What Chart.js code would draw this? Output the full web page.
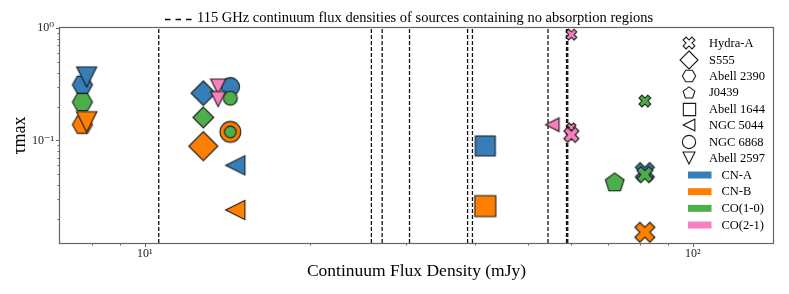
<!DOCTYPE html>
<html>
<head>
<meta charset="utf-8">
<script src="https://cdn.jsdelivr.net/npm/chart.js@4.4.1/dist/chart.umd.min.js"></script>
<style>
  html, body { margin: 0; padding: 0; background: #fff; }
</style>
</head>
<body>
<canvas id="chart" width="789" height="294"></canvas>
<script>
// ---- data ----
const SOURCES = ['Hydra-A', 'S555', 'Abell 2390', 'J0439', 'Abell 1644', 'NGC 5044', 'NGC 6868', 'Abell 2597'];
const LINES = ['CN-A', 'CN-B', 'CO(1-0)', 'CO(2-1)'];
const TITLE = '115 GHz continuum flux densities of sources containing no absorption regions';

// continuum flux (mJy), tau_max, and which line (index into LINES)
const HYDRA_FLUX = [81.7, 81.7, 81.7, 81.7, 60.0, 60.0, 60.0];
const HYDRA_TAU = [0.0522, 0.0152, 0.224, 0.0496, 0.874, 0.130, 0.112];
const HYDRA_LINE = [0, 1, 2, 2, 3, 3, 3];

const S555_FLUX = [12.78, 12.78, 12.78];
const S555_TAU = [0.263, 0.0888, 0.160];
const S555_LINE = [0, 1, 2];

const A2390_FLUX = [7.69, 7.69, 7.69];
const A2390_TAU = [0.312, 0.138, 0.219];
const A2390_LINE = [0, 1, 2];

const J0439_FLUX = [72.0];
const J0439_TAU = [0.0419];
const J0439_LINE = [2];

const A1644_FLUX = [41.8, 41.8];
const A1644_TAU = [0.0892, 0.0260];
const A1644_LINE = [0, 1];

const N5044_FLUX = [14.62, 14.62, 55.4];
const N5044_TAU = [0.0599, 0.0240, 0.138];
const N5044_LINE = [0, 1, 3];

const N6868_FLUX = [14.32, 14.32, 14.32, 14.32];
const N6868_TAU = [0.300, 0.119, 0.237, 0.119];
const N6868_LINE = [0, 1, 2, 2];

const A2597_FLUX = [7.83, 7.83, 13.6, 13.6];
const A2597_TAU = [0.367, 0.146, 0.301, 0.233];
const A2597_LINE = [0, 1, 3, 3];

// sources with no absorption (vertical dashed lines)
const NOABS_FLUX = [10.6, 25.9, 27.1, 30.4, 38.8, 39.6, 54.4, 58.8, 59.1];

// axes
const X_MIN = 7, X_MAX = 140;
const Y_MIN = 0.0122, Y_MAX = 1;
const X_TICKS = [8, 9, 10, 20, 30, 40, 50, 60, 70, 80, 90, 100];
const X_MAJOR = [10, 100];
const X_MAJOR_LABELS = ['10¹', '10²'];
const Y_TICKS = [0.02, 0.03, 0.04, 0.05, 0.06, 0.07, 0.08, 0.09, 0.1, 0.2, 0.3, 0.4, 0.5, 0.6, 0.7, 0.8, 0.9, 1];
const Y_MAJOR = [0.1, 1];
const Y_MAJOR_LABELS = ['10⁻¹', '10⁰'];

// ---- styles ----
const SHAPES = ['X', 'D', 'H', 'p', 's', '<', 'o', 'v'];
const LINE_COLORS = ['#377eb8', '#ff7f00', '#4daf4a', '#f781bf'];
const MARKER_PX = {
  'Hydra-A': [19, 20, 11.7, 16, 10.7, 9, 15],
  'S555': [24.5, 29, 20.7],
  'Abell 2390': [20, 20, 20],
  'J0439': [18.7],
  'Abell 1644': [20, 21],
  'NGC 5044': [19.3, 19.3, 13.5],
  'NGC 6868': [18.3, 20.7, 14, 11.7],
  'Abell 2597': [20, 20.5, 15, 15]
};
const LEGEND_PX = [11.7, 18, 13.3, 11.7, 12.3, 11.7, 13.3, 12];
const SERIF = '"Liberation Serif", "DejaVu Serif", serif';

const SERIES = [
  { name: 'Hydra-A', flux: HYDRA_FLUX, tau: HYDRA_TAU, line: HYDRA_LINE },
  { name: 'S555', flux: S555_FLUX, tau: S555_TAU, line: S555_LINE },
  { name: 'Abell 2390', flux: A2390_FLUX, tau: A2390_TAU, line: A2390_LINE },
  { name: 'J0439', flux: J0439_FLUX, tau: J0439_TAU, line: J0439_LINE },
  { name: 'Abell 1644', flux: A1644_FLUX, tau: A1644_TAU, line: A1644_LINE },
  { name: 'NGC 5044', flux: N5044_FLUX, tau: N5044_TAU, line: N5044_LINE },
  { name: 'NGC 6868', flux: N6868_FLUX, tau: N6868_TAU, line: N6868_LINE },
  { name: 'Abell 2597', flux: A2597_FLUX, tau: A2597_TAU, line: A2597_LINE }
];

function tracePath(g, shape, r) {
  g.beginPath();
  if (shape === 'o') { g.arc(0, 0, r, 0, Math.PI * 2); return; }
  let pts;
  if (shape === 's') pts = [[-r, -r], [r, -r], [r, r], [-r, r]];
  else if (shape === 'D') pts = [[0, -r], [r, 0], [0, r], [-r, 0]];
  else if (shape === 'v') pts = [[-r, -r], [r, -r], [0, r]];
  else if (shape === '<') pts = [[-r, 0], [r, -r], [r, r]];
  else if (shape === 'H') pts = [0, 1, 2, 3, 4, 5].map(k => [r * Math.cos(k * Math.PI / 3), r * Math.sin(k * Math.PI / 3)]);
  else if (shape === 'p') {
    const R = r / Math.sin(2 * Math.PI / 5);
    pts = [0, 1, 2, 3, 4].map(k => {
      const t = -Math.PI / 2 + k * 2 * Math.PI / 5;
      return [R * Math.cos(t), R * Math.sin(t)];
    });
  } else {
    // filled X: a plus rotated by 45 degrees
    const a = r / (2 * Math.SQRT2), L = 3 * a;
    const plus = [[-a, -L], [a, -L], [a, -a], [L, -a], [L, a], [a, a], [a, L], [-a, L], [-a, a], [-L, a], [-L, -a], [-a, -a]];
    const c = Math.SQRT1_2;
    pts = plus.map(([px, py]) => [c * (px - py), c * (px + py)]);
  }
  g.moveTo(pts[0][0], pts[0][1]);
  for (let i = 1; i < pts.length; i++) g.lineTo(pts[i][0], pts[i][1]);
  g.closePath();
}

function markerCanvas(shape, w, fill) {
  const size = Math.ceil(w + 4);
  const c = document.createElement('canvas');
  c.width = size; c.height = size;
  const g = c.getContext('2d');
  g.translate(size / 2, size / 2);
  tracePath(g, shape, w / 2);
  g.fillStyle = fill;
  g.fill();
  g.lineWidth = 1.1;
  g.strokeStyle = '#1a1a1a';
  g.stroke();
  return c;
}

const datasets = [];
NOABS_FLUX.forEach(v => {
  datasets.push({
    data: [{ x: v, y: Y_MIN }, { x: v, y: Y_MAX }],
    showLine: true,
    borderColor: '#111',
    borderWidth: 1.3,
    borderDash: [4, 2],
    pointRadius: 0,
    clip: false
  });
});
SERIES.forEach(s => {
  const shape = SHAPES[SOURCES.indexOf(s.name)];
  const pics = s.flux.map((_, i) => markerCanvas(shape, MARKER_PX[s.name][i], LINE_COLORS[s.line[i]]));
  datasets.push({
    label: s.name,
    data: s.flux.map((f, i) => ({ x: f, y: s.tau[i] })),
    pointStyle: c => pics[c.dataIndex] || pics[0],
    pointRadius: 10,
    clip: false
  });
});
datasets.forEach((d, i) => { d.order = datasets.length - i; });

const decor = {
  id: 'decor',
  afterDraw(chart) {
    const { ctx, chartArea: a, scales: { x, y } } = chart;
    ctx.save();
    // frame
    ctx.strokeStyle = '#666';
    ctx.lineWidth = 1.2;
    ctx.strokeRect(Math.round(a.left) - 0.5, Math.round(a.top) - 0.5, Math.round(a.right - a.left) + 1, Math.round(a.bottom - a.top) + 1);
    // tick marks
    ctx.lineWidth = 1;
    ctx.beginPath();
    X_TICKS.forEach(v => {
      const px = Math.round(x.getPixelForValue(v)) + 0.5;
      const len = X_MAJOR.includes(v) ? 4 : 2.5;
      ctx.moveTo(px, a.bottom); ctx.lineTo(px, a.bottom + len);
    });
    Y_TICKS.forEach(v => {
      const py = Math.round(y.getPixelForValue(v)) + 0.5;
      const len = Y_MAJOR.includes(v) ? 4 : 2.5;
      ctx.moveTo(a.left, py); ctx.lineTo(a.left - len, py);
    });
    ctx.stroke();

    // title-like legend entry for dashed lines
    ctx.strokeStyle = '#000';
    ctx.lineWidth = 1.5;
    ctx.setLineDash([5.5, 5]);
    ctx.beginPath(); ctx.moveTo(165, 19.5); ctx.lineTo(192.5, 19.5); ctx.stroke();
    ctx.setLineDash([]);
    ctx.fillStyle = '#000';
    ctx.font = '14.5px ' + SERIF;
    ctx.textBaseline = 'middle';
    ctx.textAlign = 'left';
    ctx.fillText(TITLE, 197, 18.5);

    // legend: marker shapes
    ctx.font = '12.5px ' + SERIF;
    const mx = a.right - 84;
    SOURCES.forEach((name, i) => {
      const yy = 43.3 + i * 16.43;
      const pic = markerCanvas(SHAPES[i], LEGEND_PX[i], '#fff');
      ctx.drawImage(pic, Math.round(mx - pic.width / 2), Math.round(yy - pic.height / 2));
      ctx.fillStyle = '#000';
      ctx.fillText(name, mx + 20, yy + 0.5);
    });
    // legend: line colours
    LINES.forEach((name, i) => {
      const yy = 175 + i * 16.67;
      ctx.fillStyle = LINE_COLORS[i];
      ctx.fillRect(mx - 1, yy - 3.5, 23.5, 7);
      ctx.fillStyle = '#000';
      ctx.fillText(name, mx + 32.5, yy + 0.5);
    });
    ctx.restore();
  }
};

Chart.defaults.font.family = SERIF;
Chart.defaults.color = '#000';

new Chart(document.getElementById('chart'), {
  type: 'scatter',
  data: { datasets },
  options: {
    responsive: false,
    animation: false,
    events: [],
    layout: { padding: { top: 28, right: 16, left: 0, bottom: 0 } },
    plugins: { legend: { display: false }, tooltip: { enabled: false } },
    scales: {
      x: {
        type: 'logarithmic',
        min: X_MIN,
        max: X_MAX,
        bounds: 'data',
        afterBuildTicks: s => { s.ticks = X_TICKS.map(v => ({ value: v })); },
        afterFit: s => { s.height = 51; },
        grid: { display: false, drawTicks: false },
        border: { display: false },
        ticks: {
          autoSkip: false,
          maxRotation: 0,
          padding: 4,
          font: { size: 12 },
          color: '#222',
          callback: v => { const i = X_MAJOR.indexOf(v); return i >= 0 ? X_MAJOR_LABELS[i] : ''; }
        },
        title: {
          display: true,
          text: 'Continuum Flux Density (mJy)',
          font: { size: 17.5 },
          padding: { top: 0, bottom: 12.5 }
        }
      },
      y: {
        type: 'logarithmic',
        min: Y_MIN,
        max: Y_MAX,
        bounds: 'data',
        afterBuildTicks: s => { s.ticks = Y_TICKS.map(v => ({ value: v })); },
        afterFit: s => { s.width = 60; },
        grid: { display: false, drawTicks: false },
        border: { display: false },
        ticks: {
          autoSkip: false,
          padding: 6,
          font: { size: 12 },
          color: '#222',
          callback: v => { const i = Y_MAJOR.indexOf(v); return i >= 0 ? Y_MAJOR_LABELS[i] : ''; }
        },
        title: {
          display: true,
          text: 'τmax',
          font: { size: 18 },
          padding: { top: 9, bottom: 0 }
        }
      }
    }
  },
  plugins: [decor]
});
</script>
</body>
</html>
